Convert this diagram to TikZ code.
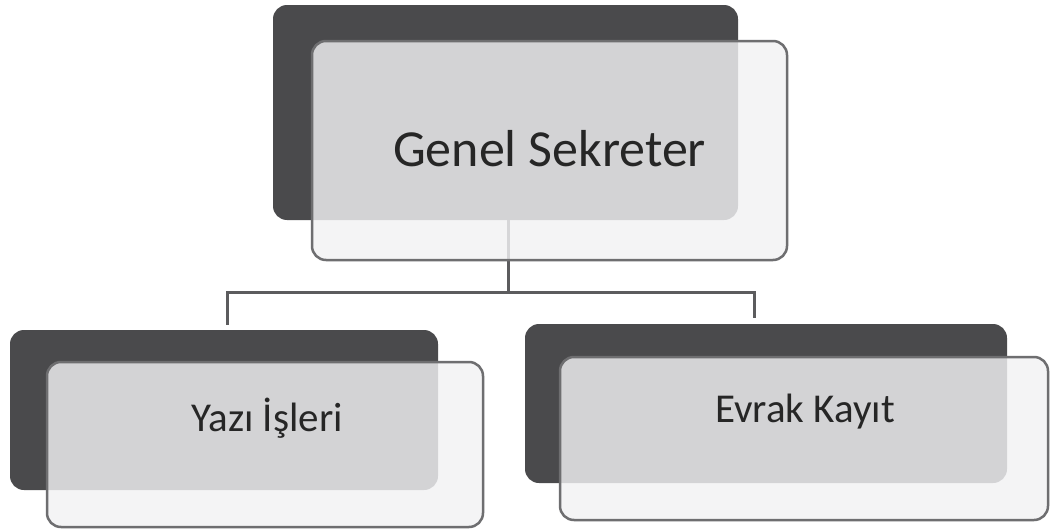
\documentclass[tikz,border=0pt]{standalone}
\usepackage{fontspec}
\setmainfont{Carlito}
\usetikzlibrary{positioning, calc}
\definecolor{backgray}{RGB}{74,74,76}
\definecolor{frontfill}{RGB}{242,242,244}
\definecolor{frontline}{RGB}{110,110,112}
\definecolor{linkgray}{RGB}{92,92,94}
\tikzset{%
  back/.style   = {rectangle, rounded corners = 14pt, fill = backgray,
    inner sep = 0pt},
  front/.style  = {rectangle, rounded corners = 14pt, fill = frontfill,
    fill opacity = 0.82, draw = frontline, line width = 2.5pt, inner sep = 0pt},
  link/.style   = {draw = linkgray, line width = 3pt},
  title/.style  = {font = \fontsize{52}{60}\selectfont, text = black!85,
    inner sep = 0pt, anchor = base},
  unit/.style   = {font = \fontsize{41}{48}\selectfont, text = black!85,
    inner sep = 0pt, anchor = base}
}
\begin{document}
\begin{tikzpicture}[x = 1pt, y = -1pt]
\useasboundingbox[fill = white] (0,0) rectangle (1050,530);
%back blocks
\draw
	(505.5,112.5) node [back, minimum width = 465pt, minimum height = 215pt] (gsback) {}
	(224,410) node [back, minimum width = 428pt, minimum height = 160pt] (yiback) {}
	(766,403.5) node [back, minimum width = 482pt, minimum height = 159pt] (ekback) {};
%lines
\coordinate (hub) at (508,292);
\coordinate (lt) at (227,292);
\coordinate (rt) at (754,292);
\draw[link] (hub |- gsback.south) -- (hub);
\draw[link] (lt |- yiback.north) ++(0,-5) -- (lt) -- (rt) -- ++(0,26);
%front blocks
\draw
	(549.5,150.5) node [front, minimum width = 475pt, minimum height = 219pt] (gs) {}
	(265,444.5) node [front, minimum width = 436pt, minimum height = 165pt] (yi) {}
	(804,438.5) node [front, minimum width = 488pt, minimum height = 163pt] (ek) {};
%labels
\node[title] (gstxt) at (549.5,166) {Genel Sekreter};
\node[unit] (yitxt) at (267,431) {Yazı İşleri};
\node[unit] (ektxt) at (805,422) {Evrak Kayıt};
\end{tikzpicture}
\end{document}
